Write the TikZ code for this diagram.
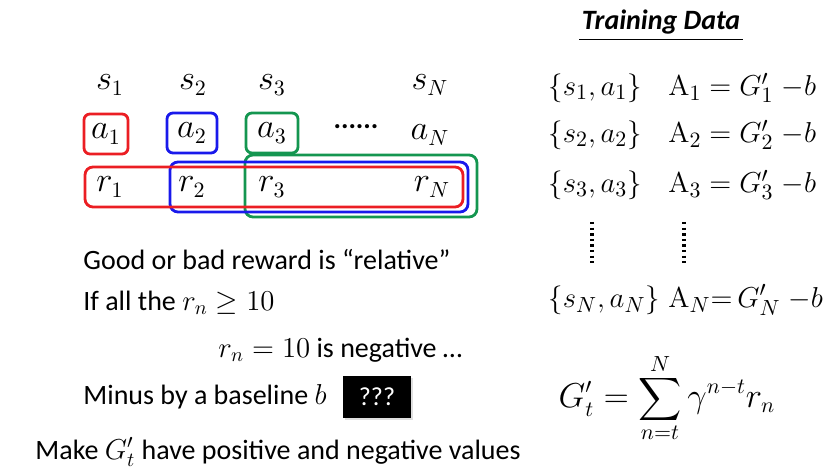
\documentclass[tikz,border=0pt]{standalone}
\usepackage[no-math]{fontspec}
\setmainfont{Carlito}
\usepackage{graphicx}
\usetikzlibrary{positioning,fit,shadows}
\definecolor{boxred}{RGB}{235,30,35}
\definecolor{boxblue}{RGB}{25,25,235}
\definecolor{boxgreen}{RGB}{20,150,80}
\newcommand{\bigsum}{\mathop{\vcenter{\hbox{\scalebox{1.5}{$\displaystyle\sum$}}}}\limits}

\begin{document}
\begin{tikzpicture}[x=0.5pt,y=-0.5pt,
  mth/.style={font=\fontsize{16}{18}\selectfont, inner sep=0pt},
  rmth/.style={font=\fontsize{15}{17}\selectfont, inner sep=0pt, anchor=west},
  txt/.style={font=\fontsize{14}{16}\selectfont, anchor=west, inner sep=0pt},
  abox/.style={draw, rounded corners=3pt, line width=1.4pt, minimum width=22pt, minimum height=20pt, inner sep=0pt},
  rbox/.style={draw, rounded corners=4pt, line width=1.4pt},
  vdots/.style={line width=1.6pt, dash pattern=on 1.2pt off 1.6pt}]
\useasboundingbox (0,0) rectangle (830,475);

% states, actions, rewards
\node[mth] (s1) at (110,85) {$s_1$};
\node[mth] (s2) at (193,85) {$s_2$};
\node[mth] (s3) at (272,85) {$s_3$};
\node[mth] (sN) at (430,85) {$s_N$};
\node[mth, abox, boxred]   (a1) at (106,134) {\color{black}$a_1$};
\node[mth, abox, boxblue, minimum width=25pt] (a2) at (192,133) {\color{black}$a_2$};
\node[mth, abox, boxgreen, minimum width=26pt] (a3) at (272,133) {\color{black}$a_3$};
\node[font=\fontsize{14}{16}\selectfont\bfseries, inner sep=0pt] (dots) at (356,131) {\raisebox{0.3em}{......}};
\node[mth] (aN) at (430,135) {$a_N$};
\node[mth] (r1) at (110,187) {$r_1$};
\node[mth] (r2) at (192,187) {$r_2$};
\node[mth] (r3) at (272,187) {$r_3$};
\node[mth] (rN) at (432,187) {$r_N$};
\draw[rbox, boxgreen] (245,155) rectangle (477,217);
\draw[rbox, boxblue]  (170,162) rectangle (468,212);
\draw[rbox, boxred]   (85,167) rectangle (463,207);

% explanation
\node[txt] (good) at (83,260) {Good or bad reward is “relative”};
\node[txt] (ifall) at (83,303) {If all the $r_n \geq 10$};
\node[txt] (neg) at (218,350) {$r_n = 10$ is negative …};
\node[txt] (minus) at (83,397) {Minus by a baseline $b$};
\node[font=\fontsize{13}{15}\selectfont, fill=black, text=white, minimum width=34pt, minimum height=21pt, inner sep=0pt,
  drop shadow={opacity=0.25, shadow xshift=1pt, shadow yshift=-1pt}] (qqq) at (377,397) {???};
\node[txt] (make) at (35,452) {Make $G_t'$ have positive and negative values};

% training data
\node[font=\fontsize{14}{16}\selectfont\bfseries\itshape, inner sep=1pt] (td) at (661,22) {Training Data};
\draw[line width=0.6pt] ([yshift=-1.5pt]td.south west) -- ([yshift=-1.5pt]td.south east);
\node[rmth] (p1) at (548,88) {$\{s_1,a_1\}$};
\node[rmth] (p2) at (548,135) {$\{s_2,a_2\}$};
\node[rmth] (p3) at (548,185) {$\{s_3,a_3\}$};
\node[rmth] (pN) at (548,300) {$\{s_N,a_N\}$};
\node[rmth] (A1) at (668,88) {$\mathrm{A}_1 = G_1'\;{-b}$};
\node[rmth] (A2) at (668,135) {$\mathrm{A}_2 = G_2'\;{-b}$};
\node[rmth] (A3) at (668,185) {$\mathrm{A}_3 = G_3'\;{-b}$};
\node[rmth] (AN) at (668,300) {$\mathrm{A}_N{=}\, G_N'\;{-b}$};
\draw[vdots] (592,222) -- (592,263);
\draw[vdots] (684,222) -- (684,263);
\node[font=\fontsize{16}{18}\selectfont, inner sep=0pt] (Gt) at (667,398) {$\displaystyle G_t' = \bigsum_{n=t}^{N} \gamma^{n-t} r_n$};
\end{tikzpicture}
\end{document}
